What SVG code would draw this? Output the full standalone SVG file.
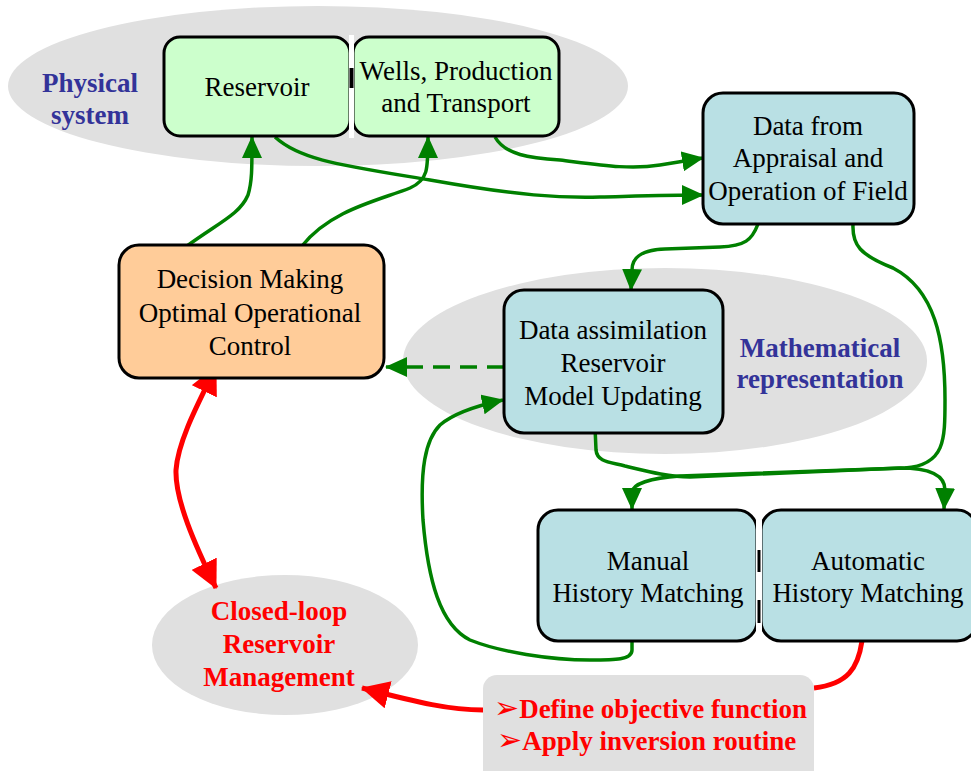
<svg xmlns="http://www.w3.org/2000/svg" width="971" height="771" viewBox="0 0 971 771">
<defs>
<style>
.lbl{font-family:"Liberation Serif","Times New Roman",serif;font-size:27px;fill:#000;text-anchor:middle}
.grp{font-family:"Liberation Serif","Times New Roman",serif;font-size:27px;font-weight:bold;fill:#333399;text-anchor:middle}
.red{font-family:"Liberation Serif","Times New Roman",serif;font-size:27px;font-weight:bold;fill:#ff0000}
.bul{font-family:"DejaVu Sans",sans-serif;font-size:30px;font-weight:normal}
.box{stroke:#000;stroke-width:3}
.g{fill:none;stroke:#008000;stroke-width:3.5}
.r{fill:none;stroke:#ff0000;stroke-width:5}
.ell{fill:#e0e0e0}
</style>
<marker id="ag" markerUnits="userSpaceOnUse" viewBox="0 0 22 20" markerWidth="22" markerHeight="20" refX="21" refY="10" orient="auto">
<path d="M0,0 L22,10 L0,20 z" fill="#008000"/>
</marker>
<marker id="ar" markerUnits="userSpaceOnUse" viewBox="0 0 28 28" markerWidth="28" markerHeight="28" refX="27" refY="14" orient="auto-start-reverse">
<path d="M0,0 L28,14 L0,28 z" fill="#ff0000"/>
</marker>
</defs>
<rect width="971" height="771" fill="#fff"/>

<g id="physical-system">
<ellipse class="ell" cx="318" cy="86" rx="310" ry="80"/>
<text class="grp" x="90" y="92">Physical</text>
<text class="grp" x="90" y="124">system</text>
</g>
<g id="mathematical-representation">
<ellipse class="ell" cx="665" cy="361" rx="262" ry="93" fill="#e4e4e4"/>
<text class="grp" x="820" y="357">Mathematical</text>
<text class="grp" x="820" y="388">representation</text>
</g>
<g id="closed-loop">
<ellipse class="ell" cx="285" cy="645" rx="133" ry="70"/>
<text class="red" text-anchor="middle" x="279" y="620">Closed-loop</text>
<text class="red" text-anchor="middle" x="279" y="653">Reservoir</text>
<text class="red" text-anchor="middle" x="279" y="686">Management</text>
</g>

<g id="connectors">
<path class="g" marker-end="url(#ag)" d="M187,246 C220,222 240,214 248,195 C252,182 252,170 252,137"/>
<path class="g" marker-end="url(#ag)" d="M302,246 C330,210 380,200 410,188 C428,180 428,170 428,137"/>
<path class="g" marker-end="url(#ag)" d="M275,137 C300,160 340,165 430,180 C520,196 560,198 600,197 C640,196 670,195 703,195"/>
<path class="g" marker-end="url(#ag)" d="M495,137 C505,155 530,158 560,160 C600,165 630,170 660,165 L703,158"/>
<path class="g" marker-end="url(#ag)" d="M758,224 C752,240 745,246 720,247 L665,249 C640,250 632,258 632,270 L631,290"/>
<path class="g" marker-end="url(#ag)" d="M853,224 C852,245 860,255 893,268 C935,290 945,340 945,400 C945,440 945,465 905,468 L680,476 C650,478 633,484 632,492 L632,509"/>
<path class="g" marker-end="url(#ag)" d="M595,427 L596,450 C597,462 610,462 625,466 C650,472 670,477 690,477 L900,468 C930,468 945,475 945,490 L944,509"/>
<path class="g" marker-end="url(#ag)" d="M632,641 L632,650 C632,660 615,660 590,660 C550,660 500,652 470,640 C440,625 428,580 423,520 C420,470 425,440 440,425 C455,412 480,405 503,400"/>
<path class="g" stroke-dasharray="17,10" marker-end="url(#ag)" d="M504,367 L386,367"/>
<path class="r" marker-start="url(#ar)" marker-end="url(#ar)" d="M216,367 C200,400 178,440 176,470 C175,500 195,545 216,588"/>
<path class="r" marker-end="url(#ar)" d="M862,641 C858,668 848,684 814,688 M483,710 C450,710 420,703 362,688"/>
</g>

<g id="reservoir">
<rect class="box" x="164" y="37" width="186" height="99" rx="16" fill="#ccffcc"/>
<text class="lbl" x="257" y="96">Reservoir</text>
</g>
<g id="wells">
<rect class="box" x="353" y="37" width="206" height="99" rx="16" fill="#ccffcc"/>
<text class="lbl" x="456" y="80">Wells, Production</text>
<text class="lbl" x="456" y="112">and Transport</text>
</g>
<g id="divider-top">
<rect x="349" y="35" width="5" height="103" fill="#fff"/>
<line x1="351.5" y1="68" x2="351.5" y2="88" stroke="#000" stroke-width="4"/>
</g>
<g id="data-from-field">
<rect class="box" x="703" y="93" width="211" height="131" rx="20" fill="#b9e0e4"/>
<text class="lbl" x="808" y="135">Data from</text>
<text class="lbl" x="808" y="167">Appraisal and</text>
<text class="lbl" x="808" y="200">Operation of Field</text>
</g>
<g id="decision-making">
<rect class="box" x="119" y="245" width="265" height="133" rx="20" fill="#ffcc99"/>
<text class="lbl" x="250" y="288">Decision Making</text>
<text class="lbl" x="250" y="322">Optimal Operational</text>
<text class="lbl" x="250" y="355">Control</text>
</g>
<g id="data-assimilation">
<rect class="box" x="504" y="290" width="219" height="143" rx="20" fill="#b9e0e4"/>
<text class="lbl" x="613" y="339">Data assimilation</text>
<text class="lbl" x="613" y="372">Reservoir</text>
<text class="lbl" x="613" y="405">Model Updating</text>
</g>
<g id="manual-hm">
<rect class="box" x="538" y="510" width="219" height="131" rx="20" fill="#b9e0e4"/>
<text class="lbl" x="648" y="570">Manual</text>
<text class="lbl" x="648" y="602">History Matching</text>
</g>
<g id="automatic-hm">
<rect class="box" x="761" y="510" width="216" height="131" rx="20" fill="#b9e0e4"/>
<text class="lbl" x="868" y="570">Automatic</text>
<text class="lbl" x="868" y="602">History Matching</text>
</g>
<g id="divider-bottom">
<rect x="756" y="518" width="6" height="114" fill="#fff"/>
<line x1="759" y1="550" x2="759" y2="572" stroke="#000" stroke-width="3"/>
<line x1="759" y1="600" x2="759" y2="623" stroke="#000" stroke-width="3"/>
</g>
<g id="inversion-steps">
<rect x="483" y="675" width="331" height="110" rx="14" fill="#e0e0e0"/>
<text class="red" x="494" y="718"><tspan class="bul">➢</tspan>Define objective function</text>
<text class="red" x="497" y="750"><tspan class="bul">➢</tspan>Apply inversion routine</text>
</g>
</svg>
